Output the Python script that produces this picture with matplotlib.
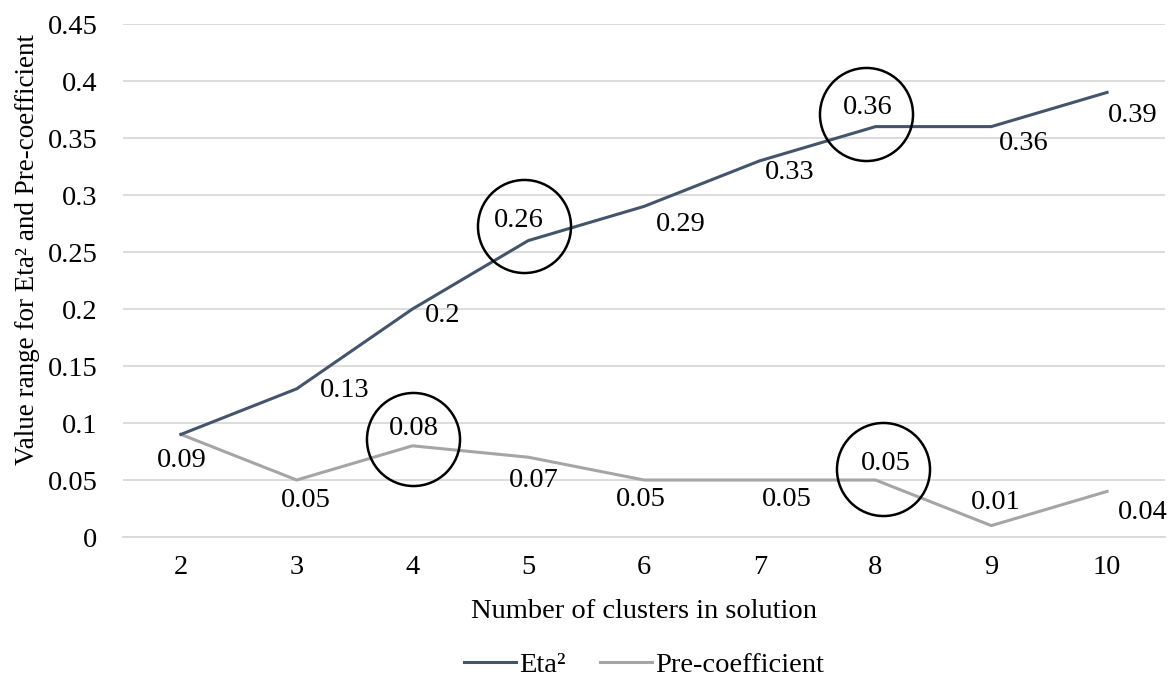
import numpy as np
import matplotlib
matplotlib.use('Agg')
import matplotlib.pyplot as plt
from matplotlib.transforms import offset_copy

plt.rcParams['font.family'] = ['Liberation Serif', 'DejaVu Serif']

clusters = [2, 3, 4, 5, 6, 7, 8, 9, 10]
eta2 = [0.09, 0.13, 0.20, 0.26, 0.29, 0.33, 0.36, 0.36, 0.39]
pre_coef = [0.09, 0.05, 0.08, 0.07, 0.05, 0.05, 0.05, 0.01, 0.04]
eta_text = ['', '0.13', '0.2', '0.26', '0.29', '0.33', '0.36', '0.36', '0.39']
pre_text = ['0.09', '0.05', '0.08', '0.07', '0.05', '0.05', '0.05', '0.01', '0.04']

# label offsets in pixels (dx, dy up)
eta_off = [(0, 0), (48, -2), (30, -6), (-9, 20), (37, -18), (30, -12), (-8, 19), (32, -17), (26, -23)]
pre_off = [(1, -26), (9, -20), (1, 17), (6, -23), (-3, -19), (27, -19), (10, 17), (4, 23), (36, -21)]
# circled points: series, index, circle centre offset in pixels
circled = [('eta', 3, (-4, 15)), ('eta', 6, (-10, 13)), ('pre', 2, (1, 7)), ('pre', 6, (7, 11))]

fig, ax = plt.subplots(figsize=(11.74, 6.82), dpi=100)
fig.subplots_adjust(left=0.1048, right=0.9923, top=0.9648, bottom=0.2126)

c_eta = '#44546A'
c_pre = '#A5A5A5'
ax.plot(clusters, eta2, color=c_eta, lw=2.2, label='Eta²', zorder=3)
ax.plot(clusters, pre_coef, color=c_pre, lw=2.2, label='Pre-coefficient', zorder=2)

px = 0.72  # pixels -> points at 100 dpi
for x, y, t, o in zip(clusters, eta2, eta_text, eta_off):
    if t:
        ax.annotate(t, (x, y), xytext=(o[0] * px, o[1] * px), textcoords='offset points',
                    ha='center', va='center', fontsize=20.5)
for x, y, t, o in zip(clusters, pre_coef, pre_text, pre_off):
    ax.annotate(t, (x, y), xytext=(o[0] * px, o[1] * px), textcoords='offset points',
                ha='center', va='center', fontsize=20.5)

for s, i, o in circled:
    vals = eta2 if s == 'eta' else pre_coef
    tr = offset_copy(ax.transData, fig=fig, x=o[0] * px, y=o[1] * px, units='points')
    ax.plot([clusters[i]], [vals[i]], marker='o', ms=67, mfc='none', mec='black',
            mew=1.8, transform=tr, clip_on=False, zorder=5)

ax.set_xlim(1.5, 10.5)
ax.set_ylim(0, 0.45)
ax.set_yticks(np.arange(0, 0.451, 0.05))
ax.set_yticklabels(['0', '0.05', '0.1', '0.15', '0.2', '0.25', '0.3', '0.35', '0.4', '0.45'])
ax.set_xticks(clusters)
ax.tick_params(length=0, labelsize=20.5)
ax.tick_params(axis='x', pad=13)
ax.tick_params(axis='y', pad=18.5)
ax.grid(axis='y', color='#D9D9D9', lw=1.3)
ax.set_axisbelow(True)
for sp in ['top', 'right', 'left']:
    ax.spines[sp].set_visible(False)
ax.spines['bottom'].set_color('#D9D9D9')
ax.spines['bottom'].set_linewidth(1.3)

ax.set_xlabel('Number of clusters in solution', fontsize=20.5)
ax.xaxis.set_label_coords(0.5, -0.121)
ax.set_ylabel('Value range for Eta² and Pre-coefficient', fontsize=19.5)
ax.yaxis.set_label_coords(-0.08, 0.56)
ax.legend(loc='center', bbox_to_anchor=(0.5, -0.2495), ncol=2, frameon=False,
          fontsize=20.5, handlelength=1.83, handletextpad=0.1, columnspacing=1.2)

plt.savefig('out.png')
